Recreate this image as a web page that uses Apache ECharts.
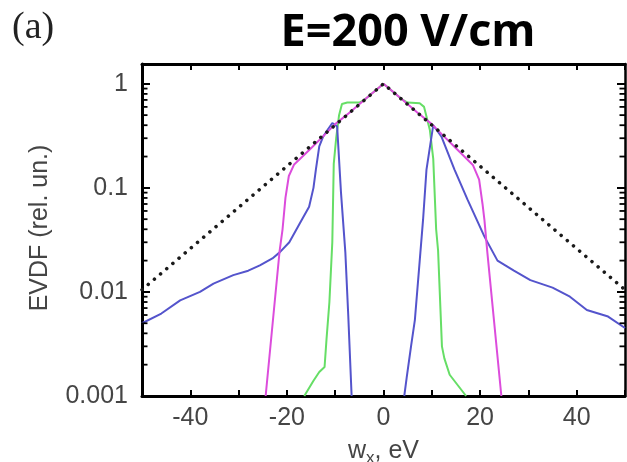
<!DOCTYPE html>
<html>
<head>
<meta charset="utf-8">
<script src="https://cdn.jsdelivr.net/npm/echarts@6/dist/echarts.min.js"></script>
<style>
html,body{margin:0;padding:0;background:#fff;}
#chart{width:627px;height:462px;}
</style>
</head>
<body>
<div id="chart"></div>
<script>
// ---- data (x in eV, y = EVDF rel. units) ----
const dottedRef = [[-50, 0.0105], [0, 1], [50, 0.0105]];

const magenta = [[-24.4, 0.001], [-21.5, 0.025], [-20.9, 0.04], [-20.3, 0.08], [-19.6, 0.13], [-18.5, 0.168],
  [-15, 0.24], [-12, 0.33], [-10, 0.41], [-7, 0.53], [-4, 0.7], [0, 1], [4, 0.7], [7, 0.53], [10, 0.41],
  [12, 0.33], [15, 0.24], [18.5, 0.166], [19.8, 0.12], [20.5, 0.07], [20.9, 0.049], [21.5, 0.024], [24.4, 0.001]];

const green = [[-16.4, 0.001], [-14.5, 0.0014], [-13.3, 0.0017], [-12.2, 0.0019], [-11.8, 0.0035], [-11.2, 0.008],
  [-10.6, 0.03], [-10.3, 0.17], [-9.8, 0.3], [-9.2, 0.5], [-8.6, 0.64], [-7.5, 0.66], [-5, 0.66], [-4, 0.7],
  [0, 1], [4, 0.7], [5, 0.66], [7.5, 0.65], [8.4, 0.6], [9.6, 0.36], [10.3, 0.19], [10.9, 0.04], [11.3, 0.025],
  [12.1, 0.003], [12.6, 0.0023], [13.7, 0.0016], [17.1, 0.001]];

// blue curve leaves the plot below 0.001 between its two branches (gap = null)
const blue = [[-50, 0.005], [-46, 0.0062], [-42.1, 0.0083], [-38, 0.01], [-35.2, 0.012], [-31.1, 0.0145],
  [-28, 0.016], [-25.6, 0.018], [-23, 0.021], [-21.5, 0.024], [-19.5, 0.03], [-17.4, 0.045], [-15.4, 0.066],
  [-14.5, 0.1], [-14, 0.15], [-13.3, 0.25], [-12.5, 0.31], [-11.6, 0.36], [-10.6, 0.42], [-9.6, 0.39], [-8.8, 0.09],
  [-7.9, 0.024], [-7.3, 0.006], [-6.6, 0.001], [0, null],
  [4.3, 0.001], [4.8, 0.0015], [5.7, 0.003], [6.5, 0.0054], [7.5, 0.02], [8.2, 0.05], [8.9, 0.15], [10.3, 0.40],
  [12.0, 0.31], [14.7, 0.15], [17.4, 0.077], [20.9, 0.034], [23.6, 0.02], [27, 0.016], [30.4, 0.013],
  [35, 0.011], [38.6, 0.009], [42.1, 0.0067], [46.5, 0.0058], [50, 0.0045]];

const xTickLabels = ['-40', '-20', '0', '20', '40'];
const yTickLabels = ['0.001', '0.01', '0.1', '1'];
const yMinorTicks = [0.002, 0.003, 0.004, 0.005, 0.006, 0.007, 0.008, 0.009,
  0.02, 0.03, 0.04, 0.05, 0.06, 0.07, 0.08, 0.09,
  0.2, 0.3, 0.4, 0.5, 0.6, 0.7, 0.8, 0.9];

const X_MIN = -50, X_MAX = 50, Y_MIN = 0.001, Y_MAX = 1.55;

const chart = echarts.init(document.getElementById('chart'), null, {renderer: 'canvas'});
const FONT = 'Liberation Sans';
const LABEL_COLOR = '#454545';

function yFmt(v) {
  const s = String(+Number(v).toPrecision(3));
  return yTickLabels.includes(s) ? s : '';
}
function xFmt(v) {
  const s = String(Math.round(v));
  return xTickLabels.includes(s) ? s : '';
}

const minorTickData = yMinorTicks.map(v => [X_MIN, v]);

const option = {
  animation: false,
  backgroundColor: '#ffffff',
  grid: {left: 142, right: 2, top: 64, bottom: 66, show: false, containLabel: false, outerBoundsMode: 'none'},
  graphic: [
    {type: 'text', left: 12, top: 9, style: {text: '(a)', font: '38px "Liberation Serif"', fill: '#222'}},
    {type: 'text', x: 408, y: 33, style: {text: 'E=200 V/cm', font: 'bold 45px "Open Sans"', fill: '#000', align: 'center', verticalAlign: 'middle'}},
    {type: 'text', x: 40, y: 228, rotation: Math.PI / 2,
      style: {text: 'EVDF (rel. un.)', font: '25px "Liberation Sans"', fill: LABEL_COLOR, align: 'center', verticalAlign: 'middle'}}
  ],
  xAxis: [
    {
      type: 'value', min: X_MIN, max: X_MAX, interval: 10, position: 'bottom',
      splitLine: {show: false},
      axisLine: {show: true, onZero: false, lineStyle: {color: '#000', width: 3}},
      axisTick: {show: true, inside: true, length: 6, lineStyle: {color: '#000', width: 2}},
      axisLabel: {formatter: xFmt, color: LABEL_COLOR, fontFamily: FONT, fontSize: 25, margin: 10, showMinLabel: true, showMaxLabel: true},
      name: '{a|w}{b|x}{a|, eV}', nameLocation: 'middle', nameGap: 35,
      nameTextStyle: {color: LABEL_COLOR, fontFamily: FONT, fontSize: 25,
        rich: {a: {fontFamily: FONT, fontSize: 25, color: LABEL_COLOR, lineHeight: 28},
               b: {fontFamily: FONT, fontSize: 17, color: LABEL_COLOR, lineHeight: 28, padding: [14, 0, 0, 0]}}}
    },
    {
      type: 'value', min: X_MIN, max: X_MAX, interval: 10, position: 'top',
      splitLine: {show: false},
      axisLine: {show: true, onZero: false, lineStyle: {color: '#000', width: 3}},
      axisTick: {show: true, inside: true, length: 6, lineStyle: {color: '#000', width: 2}},
      axisLabel: {show: false}
    }
  ],
  yAxis: [
    {
      type: 'log', logBase: 10, min: Y_MIN, max: Y_MAX, position: 'left',
      splitLine: {show: false},
      axisLine: {show: true, onZero: false, lineStyle: {color: '#000', width: 3}},
      axisTick: {show: true, inside: true, length: 8, lineStyle: {color: '#000', width: 2}},
      axisLabel: {formatter: yFmt, color: LABEL_COLOR, fontFamily: FONT, fontSize: 25, margin: 14}
    },
    {
      type: 'log', logBase: 10, min: Y_MIN, max: Y_MAX, position: 'right',
      splitLine: {show: false},
      axisLine: {show: true, onZero: false, lineStyle: {color: '#000', width: 2.5}},
      axisTick: {show: true, inside: true, length: 8, lineStyle: {color: '#000', width: 2}},
      axisLabel: {show: false}
    }
  ],
  series: [
    {
      type: 'custom', name: 'minorTicks', xAxisIndex: 0, yAxisIndex: 0, silent: true, clip: false, z: 5,
      data: minorTickData,
      renderItem: function (params, api) {
        const pL = api.coord([X_MIN, api.value(1)]);
        const pR = api.coord([X_MAX, api.value(1)]);
        return {type: 'group', children: [
          {type: 'line', shape: {x1: pL[0], y1: pL[1], x2: pL[0] + 5.5, y2: pL[1]}, style: {stroke: '#000', lineWidth: 1.8}},
          {type: 'line', shape: {x1: pR[0], y1: pR[1], x2: pR[0] - 5.5, y2: pR[1]}, style: {stroke: '#000', lineWidth: 1.8}}
        ]};
      }
    },
    {type: 'line', name: 'green', data: green, showSymbol: false, clip: true,
      lineStyle: {color: '#66de66', width: 2}},
    {type: 'line', name: 'blue', data: blue, showSymbol: false, clip: true, connectNulls: false,
      lineStyle: {color: '#5454cc', width: 2}},
    {type: 'line', name: 'magenta', data: magenta, showSymbol: false, clip: true,
      lineStyle: {color: '#dc4cdc', width: 2}},
    {type: 'line', name: 'reference', data: dottedRef, showSymbol: false, clip: true,
      lineStyle: {color: '#1a1a1a', width: 3.5, type: [0.1, 8], cap: 'round'}}
  ]
};
chart.setOption(option);
</script>
</body>
</html>
